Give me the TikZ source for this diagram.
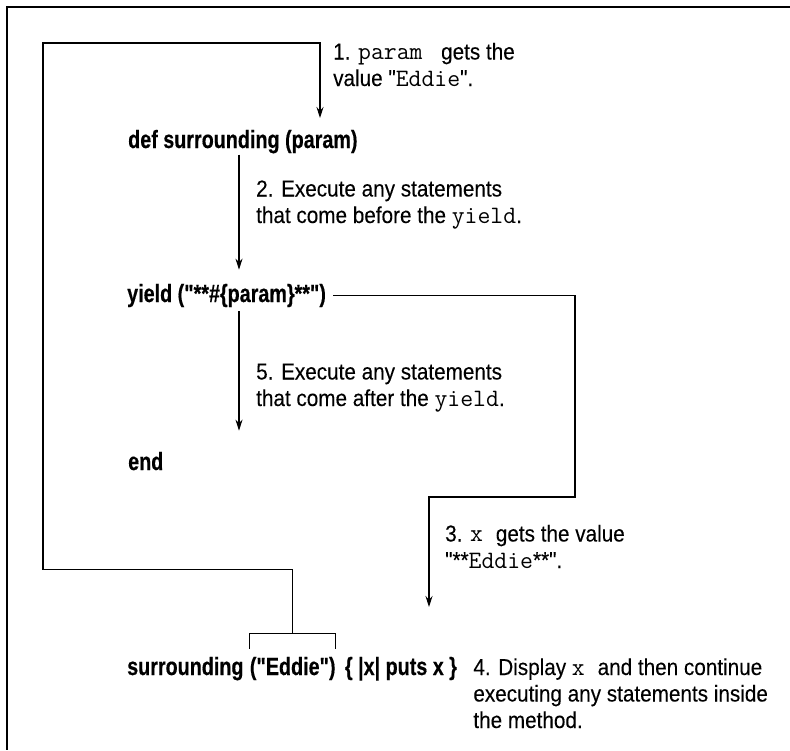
\documentclass[tikz,border=0pt]{standalone}
\usepackage{fontspec}
\setmainfont{Liberation Sans}
\newfontfamily\stepfont{Liberation Sans}[FakeStretch=0.9,FakeBold=0.15]
\newfontfamily\callfont{Liberation Sans}[FakeStretch=0.79,FakeBold=0.4]
\newcommand{\cd}[1]{{\fontsize{25}{26.5}\selectfont\ttfamily #1}}
\usetikzlibrary{arrows.meta,positioning}

\tikzset{
  steptext/.style={anchor=base west, inner sep=0pt, align=left,
    font=\fontsize{23}{26.5}\selectfont\stepfont},
  codetext/.style={anchor=base west, inner sep=0pt,
    font=\fontsize{25}{26.5}\selectfont\callfont\bfseries},
  wire/.style={line width=1.1pt},
  flow/.style={wire, -{Stealth[length=11pt,width=7pt]}}
}

\begin{document}
\begin{tikzpicture}[x=1pt,y=-1pt]
  \useasboundingbox (0,0) rectangle (790,750);
  % Frame
  \draw[line width=2pt] (790,7) -- (7,7) -- (7,750);
  % Method body
  \node[codetext] (def) at (128,148) {def surrounding (param)};
  \node[codetext] (yld) at (127,302) {yield ("**\#\{param\}**")};
  \node[codetext] (end) at (128,470) {end};
  % Call with block
  \node[codetext] (call) at (127,675) {surrounding};
  \node[codetext, base right=6pt of call] (arg) {("Eddie")};
  \node[codetext, base right=9pt of arg] (blk) {\{ |x| puts x \}};
  % Steps (placed by the baseline of their last line)
  \node[steptext] (s1) at (333,86) {1. \cd{param~} gets the\\value "\cd{Eddie}".};
  \node[steptext] (s2) at (256,223) {2. Execute any statements\\that come before the \cd{yield}.};
  \node[steptext] (s3) at (445,568) {3. \cd{x~}gets the value\\"**\cd{Eddie}**".};
  \node[steptext] (s4) at ([xshift=16pt,yshift=-53pt]blk.base east)
    {4. Display \cd{x~}and then continue\\executing any statements inside\\the method.};
  \node[steptext] (s5) at (256,406) {5. Execute any statements\\that come after the \cd{yield}.};
  % Arrow ends
  \coordinate (spine) at (239,0);
  \coordinate (defin) at (320,118);
  \coordinate (xin) at (429,607);
  \coordinate (brtop) at ([yshift=23pt]arg.north);
  % Bracket over the argument
  \draw[wire] ([yshift=8pt]arg.north west) |- (brtop) -| ([yshift=8pt]arg.north east);
  % Connectors
  \draw[flow] (brtop) -- ++(0,-64) -| (43,43) -| (defin);
  \draw[flow] ([yshift=-1pt]def.south -| spine) -- ([yshift=14pt]yld.north -| spine);
  \draw[flow] ([yshift=-4pt]yld.south -| spine) -- ([yshift=21pt]end.north -| spine);
  \draw[flow] ([xshift=7pt]yld.east) -| (575,497) -| (xin);
\end{tikzpicture}
\end{document}
